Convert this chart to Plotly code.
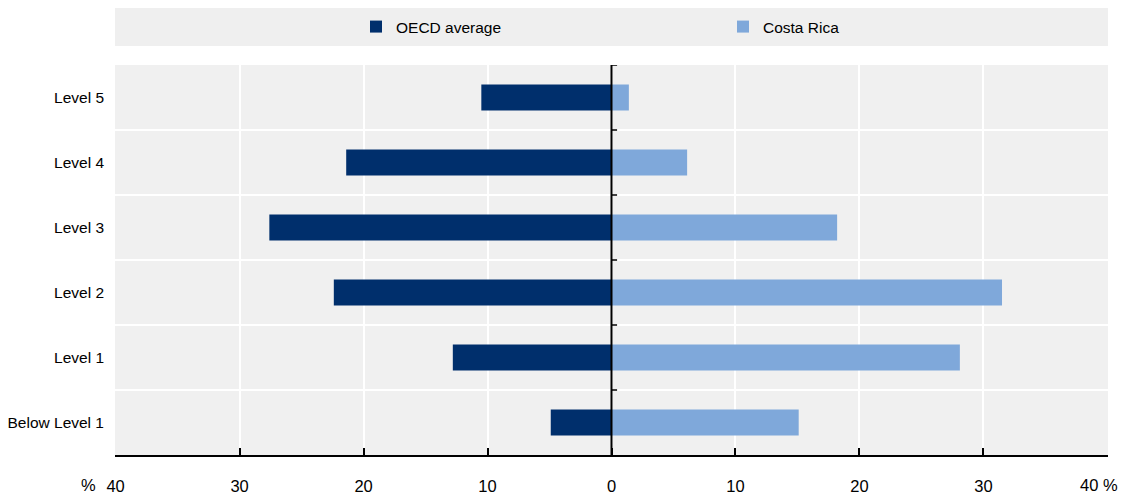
import plotly.graph_objects as go

categories = ["Below Level 1", "Level 1", "Level 2", "Level 3", "Level 4", "Level 5"]
oecd = [4.9, 12.8, 22.4, 27.6, 21.4, 10.5]
costa_rica = [15.1, 28.1, 31.5, 18.2, 6.1, 1.4]
x_tickvals = [-40, -30, -20, -10, 0, 10, 20, 30, 40]
x_ticktext = ["40", "30", "20", "10", "0", "10", "20", "30", "40 %"]

NAVY = "#002F6C"
LIGHT = "#7FA8DA"
BG = "#F0F0F0"
FONT = "Liberation Sans, Arial, sans-serif"
FS = 15.5
XFS = 16.5

fig = go.Figure()
fig.add_trace(go.Bar(
    y=categories, x=[-v for v in oecd], orientation="h", name="OECD average",
    marker=dict(color=NAVY, line=dict(width=0)), width=0.4,
))
fig.add_trace(go.Bar(
    y=categories, x=costa_rica, orientation="h", name="Costa Rica",
    marker=dict(color=LIGHT, line=dict(width=0)), width=0.4,
))

shapes = []
# legend band
shapes.append(dict(type="rect", xref="paper", yref="paper", x0=0, x1=1,
                   y0=1 + 19 / 390, y1=1 + 57 / 390, fillcolor="#EFEFEF",
                   line=dict(width=0), layer="below"))
# category separators
n = len(categories)
for i in range(n - 1):
    shapes.append(dict(type="line", xref="paper", yref="y", x0=0, x1=1,
                       y0=i + 0.5, y1=i + 0.5, line=dict(color="white", width=2),
                       layer="below"))
# zero line with right-pointing ticks at category boundaries
shapes.append(dict(type="line", xref="x", yref="y", x0=0, x1=0, y0=-0.5, y1=n - 0.5,
                   line=dict(color="black", width=2), layer="above"))
for i in range(n):
    shapes.append(dict(type="line", xref="x", yref="y", x0=0, x1=0.45,
                       y0=i + 0.5, y1=i + 0.5, line=dict(color="black", width=1.5),
                       layer="above"))

# last tick label is right-aligned at the edge, drawn as an annotation
axis_text = x_ticktext[:-1] + [""]
annotations = [
    dict(text="%", xref="paper", yref="paper", x=0, y=0,
         xshift=-27, yshift=-30, showarrow=False,
         xanchor="center", yanchor="middle", font=dict(size=XFS)),
    dict(text=x_ticktext[-1], xref="x", yref="paper", x=x_tickvals[-1], y=0,
         xshift=13, yshift=-30, showarrow=False,
         xanchor="right", yanchor="middle", font=dict(size=XFS)),
]

fig.update_layout(
    width=1124, height=496,
    margin=dict(l=115, r=16, t=65, b=41, autoexpand=False),
    paper_bgcolor="white", plot_bgcolor=BG,
    barmode="overlay",
    font=dict(family=FONT, size=FS, color="black"),
    showlegend=True,
    legend=dict(orientation="h", xref="container", yref="container",
                x=356 / 1124, xanchor="left", y=1 - 27 / 496, yanchor="middle",
                bgcolor="rgba(0,0,0,0)", entrywidth=322, entrywidthmode="pixels",
                itemwidth=30, font=dict(size=FS), traceorder="normal"),
    shapes=shapes,
    annotations=annotations,
)
fig.update_xaxes(
    range=[-40.05, 40.05], tickvals=x_tickvals, ticktext=axis_text,
    showgrid=True, gridcolor="white", gridwidth=2, zeroline=False,
    showline=True, linecolor="black", linewidth=2,
    ticks="inside", ticklen=7, tickwidth=1.5, tickcolor="black",
    ticklabelstandoff=15, ticklabeloverflow="allow", tickfont=dict(size=XFS),
    fixedrange=True, automargin=False,
)
fig.update_yaxes(
    type="category", categoryorder="array", categoryarray=categories,
    range=[-0.5, n - 0.5], showgrid=False, zeroline=False, showline=False,
    ticks="", ticklabelstandoff=10, fixedrange=True, automargin=False,
)

fig.write_html(
    "out.html",
    config={"displayModeBar": False},
    post_script="document.body.style.margin='0';document.body.style.padding='0';",
)
